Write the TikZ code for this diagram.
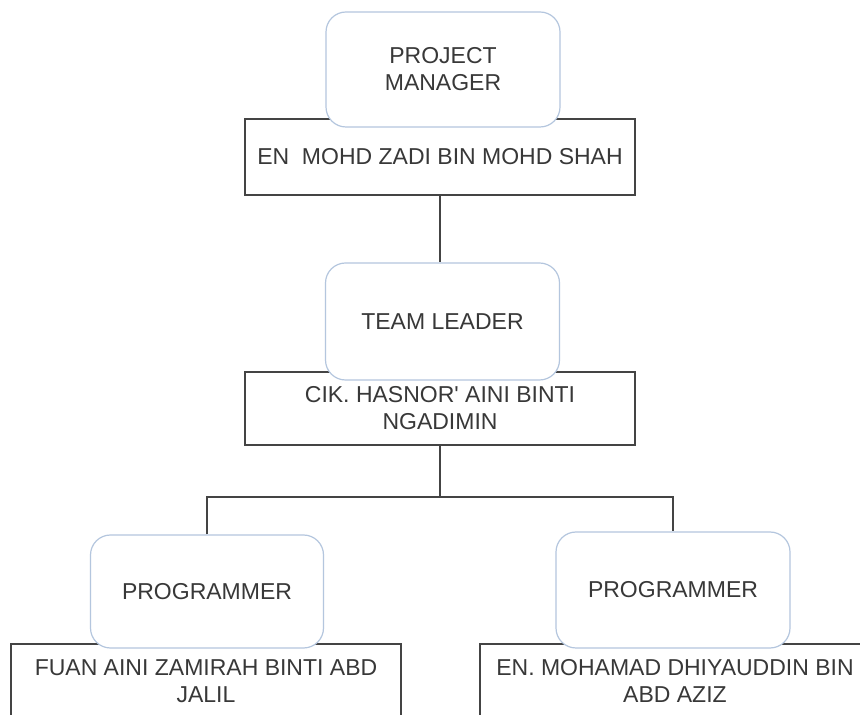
\documentclass[tikz,border=0pt]{standalone}
\usepackage{fontspec}
\setmainfont{Liberation Sans}
\usetikzlibrary{positioning}
\definecolor{txt}{HTML}{383838}
\definecolor{rline}{HTML}{444444}
\definecolor{bline}{HTML}{B4C6DE}
\tikzset{
  namebox/.style={draw=rline, line width=2.2pt, fill=white, minimum width=390pt, inner sep=0pt, align=center, text=txt, font=\fontsize{23}{27}\selectfont},
  rolebox/.style={draw=bline, line width=1.2pt, fill=white, rounded corners=20pt, minimum width=234pt, minimum height=115pt, inner sep=0pt, align=center, text=txt, font=\fontsize{23}{27}\selectfont},
  link/.style={draw=rline, line width=2pt}
}
\begin{document}
\begin{tikzpicture}[x=1pt,y=1pt]
\useasboundingbox (0,0) rectangle (860,715);
\fill[white] (0,0) rectangle (860,715);
% name boxes
\node[namebox, minimum height=76pt] (pmr) at (440,558) {EN\ \ MOHD ZADI BIN MOHD SHAH};
\node[namebox, minimum height=73pt] (tlr) at (440,306.5) {CIK.\ HASNOR\textquotesingle\ AINI BINTI\\NGADIMIN};
\node[namebox, minimum height=90pt, anchor=north] (p1r) at (206,72) {};
\node[txt, align=center, font=\fontsize{23}{27}\selectfont] (p1t) at (206,34) {FUAN AINI ZAMIRAH BINTI ABD\\JALIL};
\node[namebox, minimum height=90pt, anchor=north] (p2r) at (675,72) {};
\node[txt, align=center, font=\fontsize{23}{27}\selectfont] (p2t) at (675,34) {EN. MOHAMAD DHIYAUDDIN BIN\\ABD AZIZ};
% role boxes
\node[rolebox] (pm) at (443,645.5) {PROJECT\\MANAGER};
\node[rolebox, minimum height=117pt] (tl) at (442.5,393.5) {TEAM LEADER};
\node[rolebox, minimum height=113pt, minimum width=233pt] (p1) at (207,123.5) {PROGRAMMER};
\node[rolebox, minimum height=116pt] (p2) at (673,125) {PROGRAMMER};
% connectors
\coordinate (split) at (440,218);
\draw[link] (pmr.south) -- (pmr.south |- tl.north);
\draw[link] (tlr.south) -- (split);
\draw[link] (p1.north) |- (split) -| (p2.north);
\end{tikzpicture}
\end{document}
